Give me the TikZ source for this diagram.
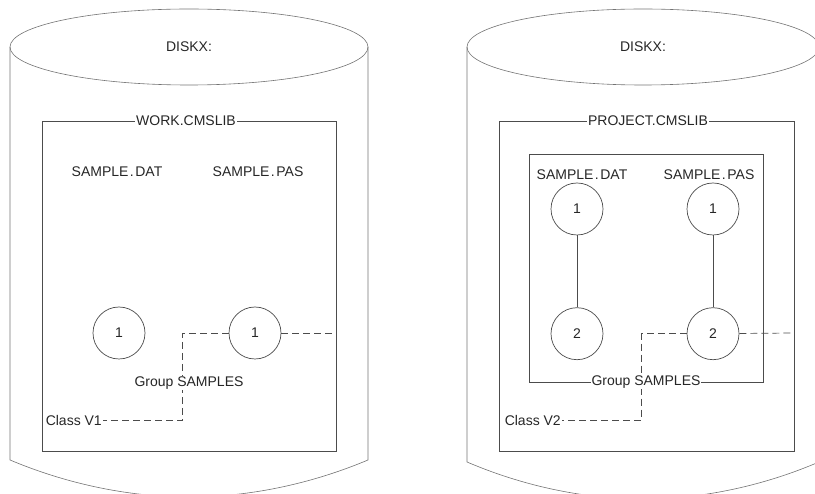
\documentclass[tikz,border=0pt]{standalone}
\usepackage{fontspec}
\setmainfont{Liberation Sans}
\usetikzlibrary{positioning}
\colorlet{cLine}{black!70}
\colorlet{cCyl}{black!55}
\colorlet{cText}{black!85}
\newcommand{\fname}[2]{#1\kern1.5pt.\kern1.5pt#2}

\begin{document}
\begin{tikzpicture}[
  x=1pt, y=-1pt,
  font=\fontsize{14}{16}\selectfont,
  text=cText,
  node distance = 72pt,
  cyl/.style    = {draw=cCyl, line width=0.6pt},
  libbox/.style = {draw=cLine, line width=0.7pt},
  boxlab/.style = {fill=white, inner sep=1pt},
  fnode/.style  = {inner sep=1pt},
  ver/.style    = {circle, draw=cLine, line width=0.7pt, minimum size=52pt,
                   inner sep=0pt},
  link/.style   = {draw=cLine, line width=0.7pt},
  cls/.style    = {draw=cLine, line width=0.7pt, dash pattern=on 7pt off 4pt}]

\useasboundingbox (0,0) rectangle (815,494);
\clip (0,0) rectangle (815,494);

% ---- left disk: work library ----------------------------------------------
\draw[cyl] (10,47) -- (10,460) parabola bend (189,497) (368,460) -- (368,47);
\draw[cyl] (189,47) ellipse [x radius=179, y radius=38];
\node (diskL) at (189,47) {DISKX:};

\draw[libbox] (42,121) rectangle (336,451);
\node[boxlab] (libL) at (186,121) {WORK.CMSLIB};

\node[fnode] (datL) at (117,172) {\fname{SAMPLE}{DAT}};
\node[fnode] (pasL) at (258,172) {\fname{SAMPLE}{PAS}};
\node[ver] (datL1) at (119,333) {1};
\node[ver] (pasL1) at (255,333) {1};

% class V1 marks generation 1 of SAMPLE.PAS
\node[fnode, anchor=east] (clsL) at (103,420) {Class V1};
\coordinate (edgeL) at (336,333);
\draw[cls] (pasL1) -- (edgeL);
\draw[cls] (pasL1.west) -- ++(-46,0) |- (clsL.east);
\node[boxlab] (grpL) at (189,383) {Group SAMPLES};

% ---- right disk: project library ------------------------------------------
\draw[cyl] (467,47) -- (467,462) parabola bend (643,499) (819,462) -- (819,47);
\draw[cyl] (643,47) ellipse [x radius=176, y radius=38];
\node (diskR) at (643,47) {DISKX:};

\draw[libbox] (499,121) rectangle (794,451);
\node[boxlab] (libR) at (648,121) {PROJECT.CMSLIB};
\draw[libbox] (529,154) rectangle (763,382);

\node[fnode] (datR) at (582,175) {\fname{SAMPLE}{DAT}};
\node[fnode] (pasR) at (709,175) {\fname{SAMPLE}{PAS}};
\node[ver] (datR1) at (577,209) {1};
\node[ver] (pasR1) at (713,209) {1};
\node[ver, below=of datR1] (datR2) {2};
\node[ver, below=of pasR1] (pasR2) {2};
\draw[link] (datR1) -- (datR2);
\draw[link] (pasR1) -- (pasR2);

% class V2 marks generation 2 of SAMPLE.PAS
\node[fnode, anchor=east] (clsR) at (562,420) {Class V2};
\coordinate (edgeR) at (794,333);
\draw[cls] (pasR2) -- (edgeR);
\draw[cls] (pasR2.west) -- ++(-45,0) |- (clsR.east);
\node[boxlab] (grpR) at (646,382) {Group SAMPLES};

\end{tikzpicture}
\end{document}
